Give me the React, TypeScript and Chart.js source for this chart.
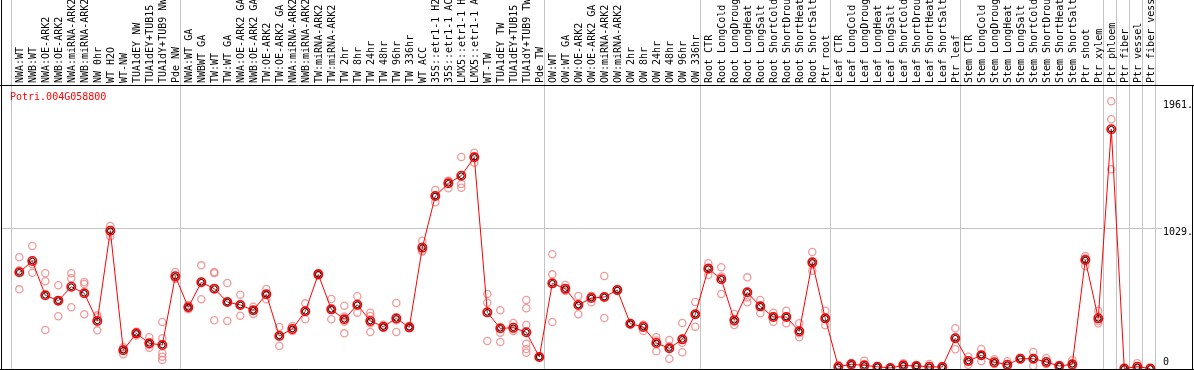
import React, { useEffect, useRef } from "react";
import { Chart, registerables } from "chart.js";
Chart.register(...registerables);

const geneId = "Potri.004G058800";

const categories = [
  "NWA:WT", "NWB:WT", "NWA:OE-ARK2", "NWB:OE-ARK2", "NWA:miRNA-ARK2", "NWB:miRNA-ARK2", "NW 0hr", "WT H2O", "WT-NW", "TUA1dEY NW", "TUA1dEY+TUB15 NW", "TUA1dY+TUB9 NW", "Pde NW",
  "NWA:WT GA", "NWBWT GA", "TW:WT", "TW:WT GA", "NWA:OE-ARK2 GA", "NWB:OE-ARK2 GA", "TW:OE-ARK2", "TW:OE-ARK2 GA", "NWA:miRNA-ARK2 GA", "NWB:miRNA-ARK2 GA", "TW:miRNA-ARK2", "TW:miRNA-ARK2 GA",
  "TW 2hr", "TW 8hr", "TW 24hr", "TW 48hr", "TW 96hr", "TW 336hr", "WT ACC", "35S::etr1-1 H2O", "35S::etr1-1 ACC", "LMX5::etr1-1 H2O", "LMX5::etr1-1 ACC", "WT-TW", "TUA1dEY TW", "TUA1dEY+TUB15 TW", "TUA1dY+TUB9 TW", "Pde TW",
  "OW:WT", "OW:WT GA", "OW:OE-ARK2", "OW:OE-ARK2 GA", "OW:miRNA-ARK2", "OW:miRNA-ARK2 GA", "OW 2hr", "OW 8hr", "OW 24hr", "OW 48hr", "OW 96hr", "OW 336hr",
  "Root CTR", "Root LongCold", "Root LongDrought", "Root LongHeat", "Root LongSalt", "Root ShortCold", "Root ShortDrought", "Root ShortHeat", "Root ShortSalt", "Ptr root",
  "Leaf CTR", "Leaf LongCold", "Leaf LongDrought", "Leaf LongHeat", "Leaf LongSalt", "Leaf ShortCold", "Leaf ShortDrought", "Leaf ShortHeat", "Leaf ShortSalt", "Ptr leaf",
  "Stem CTR", "Stem LongCold", "Stem LongDrought", "Stem LongHeat", "Stem LongSalt", "Stem ShortCold", "Stem ShortDrought", "Stem ShortHeat", "Stem ShortSalt", "Ptr shoot", "Ptr xylem",
  "Ptr phloem", "Ptr fiber", "Ptr vessel", "Ptr fiber vessel",
];

const meanValues = [
  706, 789, 537, 498, 600, 552, 349, 1011, 134, 258, 185, 172, 677,
  449, 633, 586, 488, 466, 427, 545, 239, 290, 420, 691, 434, 361, 468, 349, 307, 368, 302, 887, 1266, 1359, 1415, 1550, 412, 295, 299, 266, 84,
  625, 586, 466, 517, 525, 576, 329, 305, 187, 148, 214, 398,
  733, 655, 354, 559, 456, 378, 378, 273, 779, 368,
  13, 31, 23, 13, 4, 23, 18, 13, 11, 222,
  55, 97, 46, 28, 72, 72, 48, 18, 31, 796, 368,
  1756, 0, 13, 0,
];

const replicateValues = [
  [816, 581, 721], [899, 703, 765], [699, 640, 283], [611, 383, 500], [699, 662, 449], [635, 620, 398], [376, 280, 390], [1046, 1016, 971], [104, 156, 142], [270, 261, 243], [229, 153, 173], [341, 222, 112, 87, 62], [708, 664, 659],
  [434, 466, 447], [757, 508, 634], [708, 699, 354], [627, 349, 488], [542, 388, 468], [454, 400, 427], [583, 508, 544], [305, 165, 247], [312, 275, 283], [478, 361, 421], [701, 683, 689], [510, 361, 431], [461, 343, 258, 382], [530, 410, 464], [410, 385, 268, 333], [321, 301, 299], [481, 268, 355], [312, 297, 297], [938, 865, 858], [1310, 1220, 1268], [1378, 1323, 1376], [1552, 1354, 1327], [1584, 1510, 1556], [547, 483, 202], [427, 263, 194], [334, 275, 288], [503, 442, 319, 182, 143, 116], [88, 80],
  [838, 691, 341], [613, 576, 569], [532, 398, 468], [486, 532, 533], [679, 371, 525], [583, 569, 576], [334, 323, 330], [275, 319, 321], [229, 126, 206], [209, 72, 163], [334, 119, 189], [488, 307, 399],
  [772, 686, 741], [743, 547, 675], [400, 319, 343], [669, 486, 522], [503, 405, 460], [410, 343, 381], [424, 332, 378], [332, 229, 258], [855, 718, 764], [424, 317, 363],
  [26, 4, 9], [40, 18, 35], [57, 11, 1], [18, 7, 14], [7, 0, 5], [38, 11, 20], [26, 11, 17], [33, 4, 2], [18, 4, 11], [295, 141, 230],
  [87, 28, 50], [143, 53, 95], [68, 33, 37], [53, 18, 13], [77, 66, 73], [121, 18, 77], [77, 33, 34], [26, 11, 17], [62, 18, 13], [826, 752, 810], [424, 332, 348],
  [1961, 1829, 1462], [0, 0, 0], [38, 4, 0], [0, 0, 0],
];

const groupBoundaries = [0, 13, 41, 53, 63, 73, 84, 85, 86, 87, 88];
const yTickValues = [1961, 1029, 0];
const yTickLabels = ["1961.", "1029.", "0"];

const FONT = "10px 'DejaVu Sans Mono', monospace";

export default function App() {
  const ref = useRef<HTMLCanvasElement>(null);

  useEffect(() => {
    const canvas = ref.current;
    if (!canvas) return;
    const meanPts = meanValues.map((v, i) => ({ x: i, y: v }));
    const repPts = replicateValues.flatMap((arr, i) => arr.map((v) => ({ x: i, y: v })));

    const deco = {
      id: "deco",
      beforeDatasetsDraw(chart: any) {
        const { ctx, chartArea: a, scales } = chart;
        const x = scales.x;
        const y = scales.y;
        ctx.save();
        ctx.strokeStyle = "#c4c4c4";
        ctx.lineWidth = 1;
        groupBoundaries.forEach((b) => {
          const px = Math.round(x.getPixelForValue(b - 0.64)) + 0.5;
          ctx.beginPath();
          ctx.moveTo(px, 0);
          ctx.lineTo(px, a.bottom);
          ctx.stroke();
        });
        yTickValues.forEach((v, k) => {
          if (k === 0 || k === yTickValues.length - 1) return;
          const py = Math.round(y.getPixelForValue(v)) + 0.5;
          ctx.beginPath();
          ctx.moveTo(a.left, py);
          ctx.lineTo(1162, py);
          ctx.stroke();
        });
        ctx.restore();
      },
      afterDatasetsDraw(chart: any) {
        const { ctx, chartArea: a, scales } = chart;
        const x = scales.x;
        const y = scales.y;
        ctx.save();
        // frame
        ctx.strokeStyle = "#000";
        ctx.lineWidth = 1;
        ctx.beginPath();
        ctx.moveTo(1.5, 0);
        ctx.lineTo(1.5, a.bottom + 0.5);
        ctx.moveTo(0, a.top + 0.5);
        ctx.lineTo(chart.width, a.top + 0.5);
        ctx.moveTo(a.right - 0.5, a.top);
        ctx.lineTo(a.right - 0.5, a.bottom + 1);
        ctx.moveTo(0, a.bottom + 0.5);
        ctx.lineTo(chart.width, a.bottom + 0.5);
        ctx.stroke();
        // category labels
        ctx.fillStyle = "#000";
        ctx.font = FONT;
        ctx.textAlign = "left";
        ctx.textBaseline = "middle";
        categories.forEach((lab, i) => {
          const px = x.getPixelForValue(i);
          ctx.save();
          ctx.translate(px + 1, a.top - 2);
          ctx.rotate(-Math.PI / 2);
          ctx.fillText(lab, 0, 0);
          ctx.restore();
        });
        // y tick labels
        yTickValues.forEach((v, k) => {
          let py = y.getPixelForValue(v) + 4.5;
          py = Math.min(py, a.bottom - 7);
          ctx.fillText(yTickLabels[k], 1163, py);
        });
        // title
        ctx.fillStyle = "#ff0000";
        ctx.fillText(geneId, 10, a.top + 12);
        ctx.restore();
      },
    };

    const chart = new Chart(canvas, {
      type: "scatter",
      data: {
        datasets: [
          {
            label: "mean inner",
            data: meanPts,
            showLine: false,
            pointRadius: 2.8,
            pointBorderWidth: 1,
            pointBorderColor: "#000000",
            pointBackgroundColor: "rgba(0,0,0,0)",
            order: 0,
            clip: 0,
          },
          {
            label: "mean",
            data: meanPts,
            showLine: true,
            borderColor: "#ff0000",
            borderWidth: 1,
            pointRadius: 4.2,
            pointBorderWidth: 1.6,
            pointBorderColor: "#ff0000",
            pointBackgroundColor: "rgba(0,0,0,0)",
            order: 1,
            clip: 0,
          },
          {
            label: "replicates",
            data: repPts,
            showLine: false,
            pointRadius: 3.6,
            pointBorderWidth: 1.3,
            pointBorderColor: "rgba(235,120,120,0.75)",
            pointBackgroundColor: "rgba(0,0,0,0)",
            order: 2,
            clip: 0,
          },
        ],
      } as any,
      options: {
        animation: false,
        responsive: false,
        devicePixelRatio: 1,
        layout: { autoPadding: false, padding: { top: 85, bottom: 1, left: 1, right: 1 } },
        plugins: { legend: { display: false }, tooltip: { enabled: false }, title: { display: false } },
        scales: {
          x: { type: "linear", display: false, min: -1.4077, max: 90.285 },
          y: { type: "linear", display: false, min: -3.67, max: 2080.7 },
        },
        events: [],
      } as any,
      plugins: [deco],
    });
    return () => chart.destroy();
  }, []);

  return (
    <div style={{ position: "absolute", left: 0, top: 0, width: 1194, height: 370, background: "#fff" }}>
      <canvas ref={ref} width={1194} height={370} style={{ display: "block", width: 1194, height: 370 }} />
    </div>
  );
}
